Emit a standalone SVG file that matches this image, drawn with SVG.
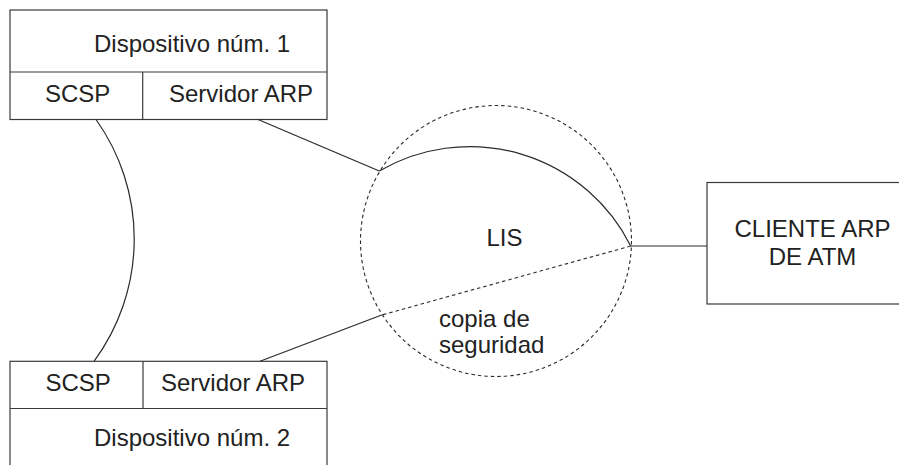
<svg xmlns="http://www.w3.org/2000/svg" width="899" height="465" viewBox="0 0 899 465">
<style>
.box{fill:none;stroke:#3a3a3a;stroke-width:1.2}
.ln{fill:none;stroke:#2a2a2a;stroke-width:1.2}
.dash{fill:none;stroke:#2a2a2a;stroke-width:1.1;stroke-dasharray:3.5 3}
text{font-family:"Liberation Sans",Arial,sans-serif;font-size:24px;fill:#222}
</style>
<rect width="899" height="465" fill="#fff"/>
<g id="lis">
<circle class="dash" cx="496" cy="241" r="135.5"/>
<text x="486.5" y="245.7">LIS</text>
<text x="439" y="326.7">copia de</text>
<text x="439" y="353.3">seguridad</text>
</g>
<g id="dispositivo1">
<rect class="box" x="10" y="10" width="317" height="109.5"/>
<line class="box" x1="10" y1="72" x2="327" y2="72"/>
<line class="box" x1="142.7" y1="72" x2="142.7" y2="119.5"/>
<text x="94" y="51.7">Dispositivo núm. 1</text>
<text x="45" y="102.3">SCSP</text>
<text x="169" y="102.3">Servidor ARP</text>
</g>
<g id="dispositivo2">
<rect class="box" x="10" y="361.3" width="317" height="130"/>
<line class="box" x1="10" y1="408.5" x2="327" y2="408.5"/>
<line class="box" x1="143" y1="361.3" x2="143" y2="408.5"/>
<text x="45.5" y="391">SCSP</text>
<text x="161" y="391">Servidor ARP</text>
<text x="94" y="445.7">Dispositivo núm. 2</text>
</g>
<g id="cliente">
<rect class="box" x="707" y="182.5" width="250" height="121.5"/>
<text x="812.5" y="237.3" text-anchor="middle">CLIENTE ARP</text>
<text x="812.5" y="265" text-anchor="middle">DE ATM</text>
</g>
<g id="connectors">
<path class="ln" d="M96,119.5 A206,206 0 0 1 94,361.3"/>
<line class="ln" x1="258" y1="119.5" x2="379.3" y2="171"/>
<path class="ln" d="M379.3,171 A180,180 0 0 1 630.7,246"/>
<line class="dash" x1="630.7" y1="246" x2="381.7" y2="315"/>
<line class="ln" x1="381.7" y1="315" x2="260" y2="361.3"/>
<line class="ln" x1="630.7" y1="246" x2="707" y2="246"/>
</g>
</svg>
